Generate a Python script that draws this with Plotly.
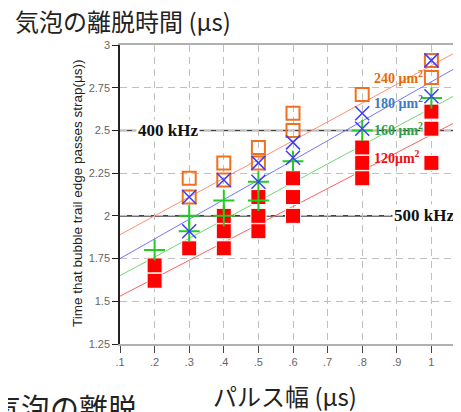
import plotly.graph_objects as go

# ---- data ----
x_tick_vals = [0.1, 0.2, 0.3, 0.4, 0.5, 0.6, 0.7, 0.8, 0.9, 1.0]
x_tick_text = [".1", ".2", ".3", ".4", ".5", ".6", ".7", ".8", ".9", "1"]
y_tick_vals = [1.25, 1.5, 1.75, 2.0, 2.25, 2.5, 2.75, 3.0]
y_tick_text = ["1.25", "1.5", "1.75", "2", "2.25", "2.5", "2.75", "3"]

# 240 um^2 (orange open squares)
x_240 = [0.3, 0.3, 0.4, 0.4, 0.5, 0.5, 0.6, 0.6, 0.8, 1.0, 1.0]
y_240 = [2.22, 2.11, 2.31, 2.21, 2.40, 2.31, 2.60, 2.50, 2.71, 2.91, 2.81]
# 180 um^2 (blue x)
x_180 = [0.3, 0.3, 0.4, 0.5, 0.5, 0.6, 0.6, 0.8, 0.8, 1.0, 1.0]
y_180 = [2.11, 1.91, 2.21, 2.31, 2.20, 2.43, 2.34, 2.60, 2.51, 2.91, 2.70]
# 160 um^2 (green +)
x_160 = [0.2, 0.3, 0.3, 0.4, 0.4, 0.5, 0.5, 0.6, 0.8, 1.0]
y_160 = [1.80, 2.00, 1.91, 2.09, 2.00, 2.20, 2.09, 2.32, 2.50, 2.69]
# 120 um^2 (red filled squares)
x_120 = [0.2, 0.2, 0.3, 0.4, 0.4, 0.4, 0.5, 0.5, 0.5, 0.6, 0.6, 0.6, 0.8, 0.8, 0.8, 1.0, 1.0, 1.0]
y_120 = [1.71, 1.62, 1.81, 2.00, 1.91, 1.81, 2.11, 2.00, 1.91, 2.22, 2.11, 2.00, 2.40, 2.31, 2.22, 2.61, 2.51, 2.31]

# fitted trend lines
fit_x = [0.1, 1.1]
fit_240 = [1.89, 2.99]
fit_180 = [1.75, 2.90]
fit_160 = [1.65, 2.74]
fit_120 = [1.53, 2.58]

# frequency reference lines
freq_values = [2.5, 2.0]
freq_labels = ["400 kHz", "500 kHz"]
freq_label_x = [0.240, 0.980]

series_labels = ["240 μm<sup>2</sup>", "180 μm<sup>2</sup>", "160 μm<sup>2</sup>", "120μm<sup>2</sup>"]
series_label_y = [2.813, 2.666, 2.508, 2.345]
series_label_x = 0.828

# ---- styling ----
C_OR, C_BL, C_GR, C_RD = "#f07020", "#3c3cff", "#22cc22", "#ff0000"
L_OR, L_BL, L_GR, L_RD = "#ff9070", "#7575ff", "#70d870", "#ff6060"
T_OR, T_BL, T_GR, T_RD = "#e46c0a", "#3a7cc4", "#30a048", "#e81010"

fig = go.Figure()

for fy, col in [(fit_240, L_OR), (fit_180, L_BL), (fit_160, L_GR), (fit_120, L_RD)]:
    fig.add_trace(go.Scatter(x=fit_x, y=fy, mode="lines",
                             line=dict(color=col, width=1), hoverinfo="skip"))

fig.add_trace(go.Scatter(x=x_120, y=y_120, mode="markers",
                         marker=dict(symbol="square", size=15, color=C_RD,
                                     line=dict(color="white", width=1))))
fig.add_trace(go.Scatter(x=x_240, y=y_240, mode="markers",
                         marker=dict(symbol="square-open", size=13, color=C_OR,
                                     line=dict(color=C_OR, width=2))))
fig.add_trace(go.Scatter(x=x_160, y=y_160, mode="markers",
                         marker=dict(symbol="cross-thin-open", size=15, color=C_GR,
                                     line=dict(color=C_GR, width=2))))
fig.add_trace(go.Scatter(x=x_180, y=y_180, mode="markers",
                         marker=dict(symbol="x-thin-open", size=14, color=C_BL,
                                     line=dict(color=C_BL, width=1.5))))

for v in freq_values:
    fig.add_shape(type="line", xref="paper", yref="y", x0=0, x1=1, y0=v, y1=v,
                  line=dict(color="#444444", width=1.6), layer="below")

annotations = []
for lab, lx, v in zip(freq_labels, freq_label_x, freq_values):
    annotations.append(dict(x=lx, y=v, xref="x", yref="y", text="<b>" + lab + "</b>",
                            showarrow=False, bgcolor="white", borderpad=1,
                            font=dict(family="Liberation Serif, Times New Roman, serif",
                                      size=17, color="#111111")))
for lab, ly, col in zip(series_labels, series_label_y, [T_OR, T_BL, T_GR, T_RD]):
    annotations.append(dict(x=series_label_x, y=ly, xref="x", yref="y", text="<b>" + lab + "</b>",
                            showarrow=False, xanchor="left",
                            font=dict(family="Liberation Serif, Times New Roman, serif",
                                      size=14, color=col)))

cjk = "Noto Sans CJK JP, Noto Sans, sans-serif"
annotations += [
    dict(x=-0.315, y=1.0836, xref="paper", yref="paper", xanchor="left", yanchor="middle",
         text="気泡の離脱時間 (μs)", showarrow=False, font=dict(family=cjk, size=24, color="#222222")),
    dict(x=0.484, y=-0.171, xref="paper", yref="paper", xanchor="center", yanchor="middle",
         text="パルス幅 (μs)", showarrow=False, font=dict(family=cjk, size=24, color="#222222")),
    dict(x=-0.38, y=-0.135, xref="paper", yref="paper", xanchor="left", yanchor="top",
         text="気泡の離脱", showarrow=False, font=dict(family=cjk, size=29, color="#222222")),
    dict(x=-0.126, y=0.505, xref="paper", yref="paper", xanchor="center", yanchor="middle",
         textangle=-90, text="Time that bubble trail edge passes strap(μs))", showarrow=False,
         font=dict(family="Liberation Sans, Arial, sans-serif", size=13.5, color="#222222")),
    dict(x=1.0147, y=-0.06, xref="paper", yref="paper", xanchor="center", yanchor="middle",
         text="1.1", showarrow=False,
         font=dict(family="Liberation Sans, Arial, sans-serif", size=11, color="#666666")),
]

# page body has an 8px margin, so the figure is 8px smaller than the window
fig.update_layout(
    width=453, height=404,
    margin=dict(l=112, r=0, t=37, b=68),
    paper_bgcolor="white", plot_bgcolor="white",
    showlegend=False,
    annotations=annotations,
    xaxis=dict(range=[0.1, 0.1 + 341 / 346], tickvals=x_tick_vals, ticktext=x_tick_text,
               showline=True, linecolor="#b0b0b0", linewidth=1.5, mirror=True,
               ticks="outside", ticklen=7, tickcolor="#444444", tickwidth=1,
               tickfont=dict(family="Liberation Sans, Arial, sans-serif", size=11, color="#666666"),
               showgrid=True, gridcolor="#c0c0c0", gridwidth=1.2, griddash="7px,5px",
               zeroline=False),
    yaxis=dict(range=[1.25, 3.0], tickvals=y_tick_vals, ticktext=y_tick_text,
               showline=True, linecolor="#222222", linewidth=1.5,
               ticks="outside", ticklen=6, tickcolor="#222222", tickwidth=1,
               tickfont=dict(family="Liberation Sans, Arial, sans-serif", size=11, color="#666666"),
               showgrid=True, gridcolor="#c0c0c0", gridwidth=1.2, griddash="7px,5px",
               zeroline=False),
)

fig.write_html("out.html", config={"displayModeBar": False})
